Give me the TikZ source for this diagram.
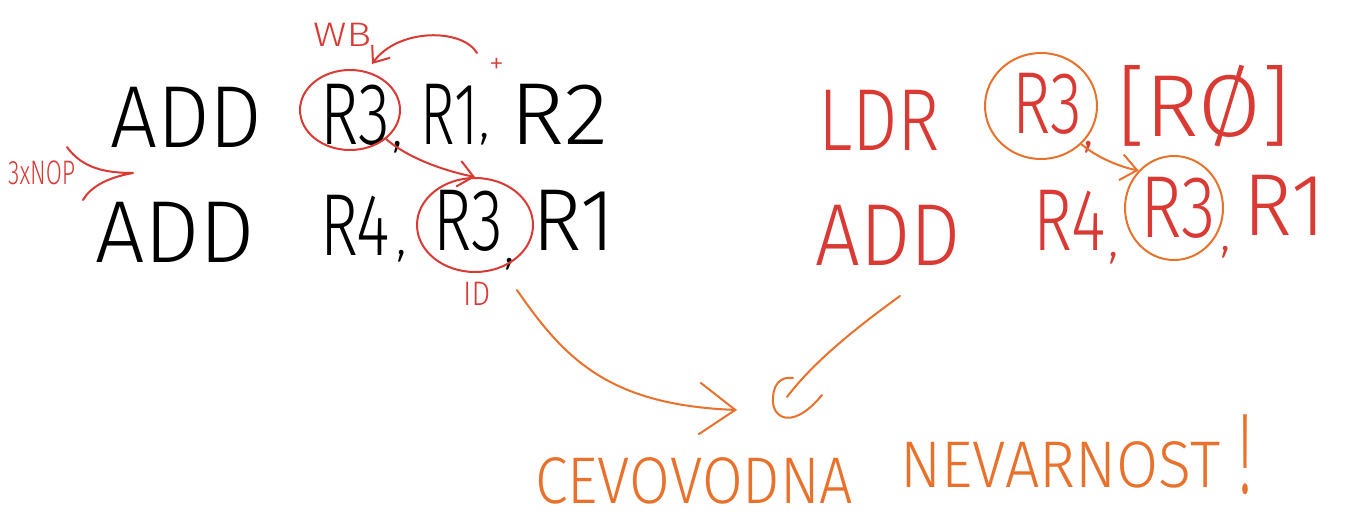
\documentclass[tikz,border=0pt]{standalone}
\usepackage{fontspec}
\IfFontExistsTF{Fira Sans Light}{\setmainfont{Fira Sans Light}}{\setmainfont{Liberation Sans}}
\usetikzlibrary{arrows.meta,shapes.geometric}
\definecolor{pen}{HTML}{D93A34}
\definecolor{ora}{HTML}{E8712C}
\newcommand\tok[2]{\resizebox{#1pt}{\height}{#2}}
\begin{document}
\begin{tikzpicture}[x=1pt,y=-1pt,
  big/.style={font=\fontsize{88}{88}\selectfont, inner sep=0pt, anchor=base west},
  blk/.style={big, text=black},
  redt/.style={big, text=pen},
  commatext/.style={font=\fontsize{50}{50}\selectfont, inner sep=0pt, anchor=base west},
  small/.style={font=\fontsize{34}{34}\selectfont, inner sep=0pt, anchor=base west, text=pen},
  hazt/.style={font=\fontsize{66}{66}\selectfont, inner sep=0pt, anchor=base west, text=ora},
  ring/.style={ellipse, draw, line width=2pt, inner sep=0pt},
  stroke/.style={line width=2pt, line cap=round, line join=round}]
\useasboundingbox (0,0) rectangle (1346,524);
\fill[white] (0,0) rectangle (1346,524);
% left block
\node[blk] (add1) at (110,148) {\tok{152}{ADD}};
\node[blk] (r3a) at (320,145) {\tok{70}{R3}};
\node[commatext, text=black] (cma1) at (392,146) {,};
\node[blk] (r1a) at (420,145) {\tok{58}{R1}};
\node[commatext, text=black] (cma2) at (479,138) {,};
\node[blk] (r2a) at (510,145) {\tok{98}{R2}};
\node[blk] (add2) at (95,262) {\tok{160}{ADD}};
\node[blk] (r4b) at (320,255) {\tok{70}{R4}};
\node[commatext, text=black] (cmb1) at (396,254) {,};
\node[blk] (r3b) at (433,250) {\tok{70}{R3}};
\node[commatext, text=black] (cmb2) at (504,262) {,};
\node[blk] (r1b) at (532,250) {\tok{83}{R1}};
% right block
\node[redt] (ldr) at (818,150) {\tok{122}{LDR}};
\node[redt] (r3c) at (1012,134) {\tok{70}{R3}};
\node[commatext, text=pen] (cmc1) at (1083,146) {,};
\node[redt] (mem) at (1117,137) {\tok{173}{[RØ]}};
\node[redt] (add3) at (815,265) {\tok{145}{ADD}};
\node[redt] (r4d) at (1033,250) {\tok{72}{R4}};
\node[commatext, text=pen] (cmd1) at (1108,256) {,};
\node[redt] (r3d) at (1140,237) {\tok{76}{R3}};
\node[commatext, text=pen] (cmd2) at (1220,250) {,};
\node[redt] (r1d) at (1243,235) {\tok{82}{R1}};
% small labels
\node[small] (wb) at (313,47) {\tok{58}{WB}};
\node[small, font=\fontsize{30}{30}\selectfont] (plus) at (489,74) {+};
\node[small] (nop) at (8,184) {\tok{67}{3xNOP}};
\node[small] (id) at (463,305) {\tok{27}{ID}};
% hazard text
\node[hazt] (cev) at (535,503) {\tok{318}{CEVOVODNA}};
\node[hazt] (nev) at (900,487) {\tok{320}{NEVARNOST}};
\node[hazt, font=\fontsize{115}{115}\selectfont] (excl) at (1238,493) {\tok{14}{!}};
% rings
\node[ring, draw=pen, minimum width=100pt, minimum height=80pt] (c1) at (350,110) {};
\node[ring, draw=pen, minimum width=116pt, minimum height=94pt] (c2) at (475,225) {};
\node[ring, draw=ora, minimum width=112pt, minimum height=106pt] (c3) at (1041,106) {};
\node[ring, draw=ora, minimum width=98pt, minimum height=104pt] (c4) at (1174,208) {};
% red connectors
\coordinate (wbfrom) at (477,53);
\coordinate (wbto) at (372,64);
\draw[stroke, pen, -{Straight Barb[length=14pt,width=22pt]}] (wbfrom) .. controls (462,28) and (398,28) .. (wbto);
\draw[stroke, pen, -{Straight Barb[length=15pt,width=26pt]}] (c1.south east) .. controls (410,160) and (450,172) .. (c2.north);
\draw[stroke, pen] (67,147) .. controls (82,168) and (105,173) .. (133,173) .. controls (105,178) and (90,188) .. (83,200);
% orange connectors
\coordinate (h1from) at (517,290);
\coordinate (h1to) at (737,410);
\draw[stroke, ora, -{Straight Barb[length=36pt,width=52pt]}] (h1from) .. controls (565,360) and (610,405) .. (h1to);
\coordinate (h2from) at (900,296);
\coordinate (h2to) at (787,397);
\draw[stroke, ora] (h2from) .. controls (860,325) and (815,360) .. (h2to);
\draw[stroke, ora] (793,378) .. controls (780,376) and (772,385) .. (773,403) .. controls (775,420) and (795,428) .. (822,395);
\draw[stroke, ora, -{Straight Barb[length=16pt,width=26pt]}] (c3.south east) .. controls (1100,160) and (1125,168) .. (c4.north west);
\end{tikzpicture}
\end{document}
